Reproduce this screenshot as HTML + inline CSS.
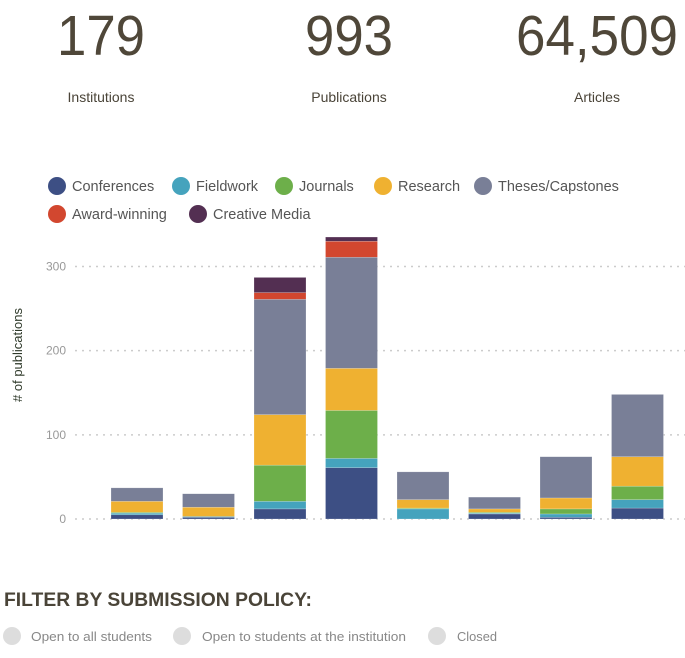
<!DOCTYPE html>
<html><head><meta charset="utf-8"><style>
html,body{margin:0;padding:0;background:#fff;width:685px;height:658px;overflow:hidden}
svg{display:block;font-family:"Liberation Sans",sans-serif}
</style></head><body>
<svg id="c" width="685" height="658">
<g fill="#4f4739">
<text x="57" y="55" font-size="57" textLength="88" lengthAdjust="spacingAndGlyphs">179</text>
<text x="305" y="55" font-size="57" textLength="88" lengthAdjust="spacingAndGlyphs">993</text>
<text x="516" y="55" font-size="57" textLength="162" lengthAdjust="spacingAndGlyphs">64,509</text>
<text x="101" y="102" font-size="14" text-anchor="middle" fill="#4a4438">Institutions</text>
<text x="349" y="102" font-size="14" text-anchor="middle" fill="#4a4438">Publications</text>
<text x="597" y="102" font-size="14" text-anchor="middle" fill="#4a4438">Articles</text>
</g>
<g id="legend"></g>
<g id="grid"></g>
<g id="bars"></g>
<text transform="translate(22,355) rotate(-90)" font-size="13" text-anchor="middle" fill="#2f3a2a"># of publications</text>
<text x="4" y="606" font-size="19" font-weight="bold" fill="#4a4438" textLength="308" lengthAdjust="spacingAndGlyphs">FILTER BY SUBMISSION POLICY:</text>
<g font-size="13" fill="#888">
<circle cx="12" cy="636" r="9" fill="#ddd"/>
<text x="31" y="641" textLength="121" lengthAdjust="spacingAndGlyphs">Open to all students</text>
<circle cx="182" cy="636" r="9" fill="#ddd"/>
<text x="202" y="641" textLength="204" lengthAdjust="spacingAndGlyphs">Open to students at the institution</text>
<circle cx="437" cy="636" r="9" fill="#ddd"/>
<text x="457" y="641" textLength="40" lengthAdjust="spacingAndGlyphs">Closed</text>
</g>
</svg>
<script>
const seriesNames = ["Conferences","Fieldwork","Journals","Research","Theses/Capstones","Award-winning","Creative Media"];
const seriesColors = ["#3d4f84","#45a3bd","#6daf4a","#efb131","#797f97","#d2472f","#532f52"];
const conferences = [5,2,12,61,0,6,2,13];
const fieldwork = [2,1,9,11,12,1,4,10];
const journals = [1,0,43,57,1,1,6,16];
const research = [13,11,60,50,10,4,13,35];
const theses = [16,16,137,132,33,14,49,74];
const award = [0,0,8,19,0,0,0,0];
const creative = [0,0,18,5,0,0,0,0];
const yTicks = [0,100,200,300];
const series = [conferences,fieldwork,journals,research,theses,award,creative];
const NS = "http://www.w3.org/2000/svg";
const y = v => 519 - v * 0.8417;
const xBar = i => 111 + i * 71.5;
const bw = 52;
function mk(tag, attrs, parent){const e=document.createElementNS(NS,tag);for(const k in attrs)e.setAttribute(k,attrs[k]);parent.appendChild(e);return e;}
const grid = document.getElementById('grid');
yTicks.forEach(t=>{
  const l = mk('line',{x1:75,x2:685,y1:y(t),y2:y(t),stroke:'#ccc','stroke-width':1.5,'stroke-dasharray':'2 5'},grid);
  
  
  const tx = mk('text',{x:66,y:y(t)+4,'text-anchor':'end','font-size':12,fill:'#999'},grid);
  tx.textContent = t;
  
  
});
const bars = document.getElementById('bars');
for(let i=0;i<conferences.length;i++){
  let cum=0;
  series.forEach((s,k)=>{
    const v=s[i]; if(!v) return;
    const r = mk('rect',{x:xBar(i),y:y(cum+v),width:bw,height:y(cum)-y(cum+v),fill:seriesColors[k],stroke:'#fff','stroke-opacity':0.4,'stroke-width':0.5},bars);
    
    
    cum+=v;
  });
}
const legend = document.getElementById('legend');
const lpos = [[57,186],[181,186],[284,186],[383,186],[483,186],[57,214],[198,214]];
seriesNames.forEach((n,k)=>{
  const c = mk('circle',{cx:lpos[k][0],cy:lpos[k][1],r:9,fill:seriesColors[k]},legend);
  
  
  const t = mk('text',{x:lpos[k][0]+15,y:lpos[k][1]+5,'font-size':14.5,fill:'#555'},legend);
  t.textContent = n;
  
  
});
</script>
</body></html>
